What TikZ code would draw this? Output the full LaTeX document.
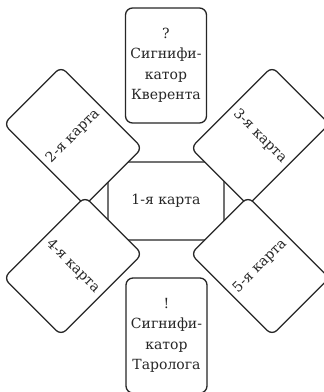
\documentclass[tikz,border=0pt]{standalone}
\usepackage{fontspec}
\setmainfont{DejaVu Serif}
\begin{document}
\begin{tikzpicture}[x=1pt,y=1pt,
  card/.style={draw=black!85, line width=1.3pt, fill=white, rounded corners=7pt,
    inner sep=0pt, align=center, text=black!85,
    font=\fontsize{14}{20.5}\selectfont},
  tall/.style={card, minimum width=81pt, minimum height=115pt},
  wide/.style={card, minimum width=116pt, minimum height=78pt}]
\useasboundingbox (0,0) rectangle (324,-392);
\node[wide] (c1) at (166,-201) {1-я карта};
\node[tall] (sigq) at (166,-65.5) {?\\Сигнифи-\\катор\\Кверента};
\node[tall] (sigt) at (166.5,-335.5) {!\\Сигнифи-\\катор\\Таролога};
\node[tall, rotate=45] (c2) at (73,-136) {2-я карта};
\node[tall, rotate=-45] (c3) at (260,-136) {3-я карта};
\node[tall, rotate=-45] (c4) at (73,-266) {4-я карта};
\node[tall, rotate=45] (c5) at (260,-266) {5-я карта};
\end{tikzpicture}
\end{document}
